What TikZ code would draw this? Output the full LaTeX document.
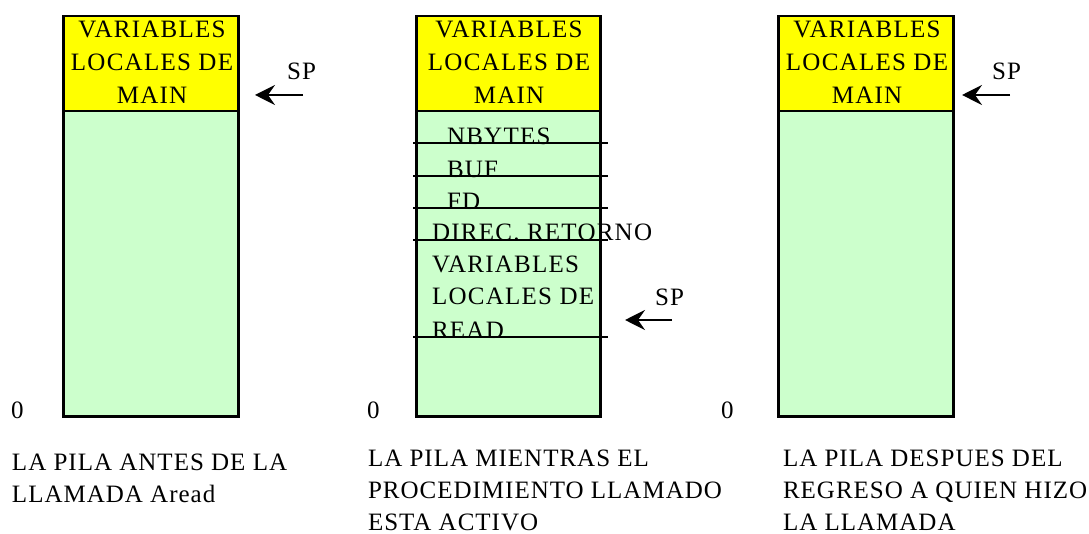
\documentclass[tikz,border=0pt]{standalone}
\usepackage{fontspec}
\setmainfont{Liberation Serif}
\usetikzlibrary{arrows.meta}
\definecolor{PilaYellow}{HTML}{FFFF00}
\definecolor{PilaGreen}{HTML}{CCFFCC}
\tikzset{
  pilafont/.style={font=\fontsize{25}{33}\selectfont\addfontfeature{LetterSpace=5}},
  pilatext/.style={pilafont,anchor=base west,inner sep=0pt,outer sep=0pt},
  captext/.style={pilatext,align=left,font=\fontsize{25}{32}\selectfont\addfontfeature{LetterSpace=4}},
  maintext/.style={pilafont,anchor=base,inner sep=0pt,align=center},
  topbox/.style={draw,line width=2.5pt,fill=PilaYellow,anchor=north west,inner sep=0pt,minimum height=95pt},
  stackbox/.style={draw,line width=2.5pt,fill=PilaGreen,anchor=north west,inner sep=0pt,minimum height=305pt},
  divider/.style={line width=1.6pt},
  sparrow/.style={line width=1.6pt,-{Stealth[length=20pt,width=20pt,inset=7pt]}}
}
\begin{document}
\begin{tikzpicture}[x=1pt,y=-1pt]
\path[use as bounding box] (0,0) rectangle (1089,534);
% stack before the call
\node[stackbox,minimum width=175pt] (pila1) at (62,110) {};
\node[topbox,minimum width=175pt] (main1) at (62,15) {};
\node[maintext] (main1txt) at (152,104) {VARIABLES\\LOCALES DE\\MAIN};
\node[pilatext] (sp1) at (287,80) {SP};
\coordinate (sp1tail) at (303,95);
\coordinate (sp1tip) at (255,95);
\draw[sparrow] (sp1tail) -- (sp1tip);
\node[pilatext] (cero1) at (11,418) {0};
\node[captext] (cap1) at (12,502) {LA PILA ANTES DE LA\\LLAMADA Aread};
% stack while read is active
\node[stackbox,minimum width=184pt] (pila2) at (415,110) {};
\node[topbox,minimum width=184pt] (main2) at (415,15) {};
\node[maintext] (main2txt) at (509,104) {VARIABLES\\LOCALES DE\\MAIN};
\node[pilatext] (nbytes) at (447,145) {NBYTES};
\node[pilatext] (buf) at (447,178) {BUF};
\node[pilatext] (fd) at (447,210) {FD};
\node[pilatext] (direc) at (432,241) {DIREC. RETORNO};
\node[pilatext,align=left] (locread) at (432,338) {VARIABLES\\LOCALES DE\\READ};
\draw[divider] (413,143) -- (608,143);
\draw[divider] (413,176) -- (608,176);
\draw[divider] (413,208) -- (608,208);
\draw[divider] (413,240) -- (608,240);
\draw[divider] (413,337) -- (608,337);
\node[pilatext] (sp2) at (655,306) {SP};
\coordinate (sp2tail) at (672,320);
\coordinate (sp2tip) at (625,320);
\draw[sparrow] (sp2tail) -- (sp2tip);
\node[pilatext] (cero2) at (367,418) {0};
\node[captext] (cap2) at (368,530) {LA PILA MIENTRAS EL\\PROCEDIMIENTO LLAMADO\\ESTA ACTIVO};
% stack after the return
\node[stackbox,minimum width=175pt] (pila3) at (777,110) {};
\node[topbox,minimum width=175pt] (main3) at (777,15) {};
\node[maintext] (main3txt) at (867,104) {VARIABLES\\LOCALES DE\\MAIN};
\node[pilatext] (sp3) at (992,80) {SP};
\coordinate (sp3tail) at (1010,95);
\coordinate (sp3tip) at (962,95);
\draw[sparrow] (sp3tail) -- (sp3tip);
\node[pilatext] (cero3) at (721,418) {0};
\node[captext] (cap3) at (783,530) {LA PILA DESPUES DEL\\REGRESO A QUIEN HIZO\\LA LLAMADA};
\end{tikzpicture}
\end{document}
